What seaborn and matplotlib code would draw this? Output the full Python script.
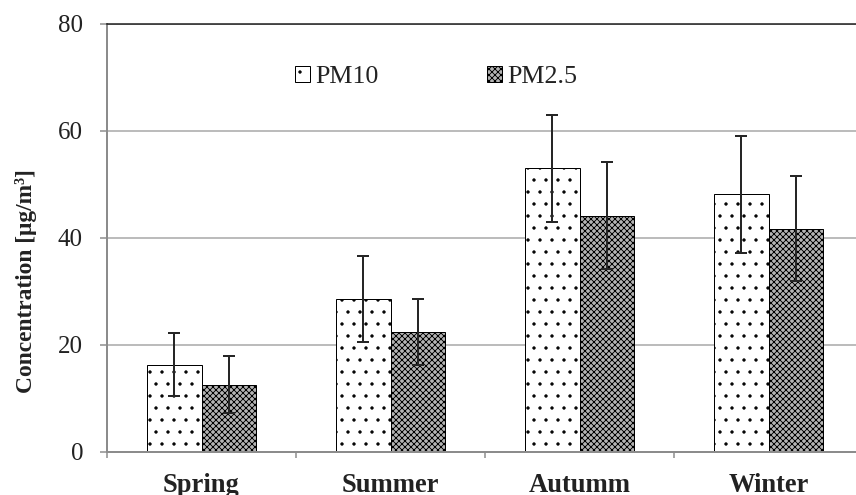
import matplotlib
matplotlib.use("Agg")
import matplotlib.pyplot as plt
import seaborn as sns
import pandas as pd
import numpy as np

# values
seasons = ["Spring", "Summer", "Autumm", "Winter"]
pollutants = ["PM10", "PM2.5"]
pm10_mean = [16.3, 28.6, 53.0, 48.1]
pm10_sd = [5.9, 8.0, 10.0, 11.0]
pm25_mean = [12.6, 22.4, 44.1, 41.7]
pm25_sd = [5.4, 6.1, 10.0, 9.8]

df = pd.DataFrame({
    "season": seasons * 2,
    "pollutant": [pollutants[0]] * 4 + [pollutants[1]] * 4,
    "conc": pm10_mean + pm25_mean,
})

sns.set_style("white")
plt.rcParams["font.family"] = ["Liberation Serif", "DejaVu Serif"]
plt.rcParams["hatch.linewidth"] = 0.9
text_col = "#222222"
grid_col = "#a6a6a6"

# dpi 72 -> 1 pt == 1 px
fig = plt.figure(figsize=(856 / 72, 495 / 72), dpi=72)
ax = fig.add_axes([107 / 856, 1 - 452 / 495, 756 / 856, 428.3 / 495])

# white dotted PM10, grey checker-like PM2.5
sns.barplot(data=df, x="season", y="conc", hue="pollutant", order=seasons,
            hue_order=pollutants, errorbar=None, width=0.572, gap=0,
            palette=["white", "#b4b4b4"], saturation=1, edgecolor="black",
            linewidth=1, legend=False, ax=ax)

bar_containers = list(ax.containers)
for cont, hatch in zip(bar_containers, [".", "xxxx"]):
    for bar in cont:
        bar.set_hatch(hatch)

# error bars on top of the seaborn bars
for cont, sds in zip(bar_containers, [pm10_sd, pm25_sd]):
    xs = [b.get_x() + b.get_width() / 2 for b in cont]
    ys = [b.get_height() for b in cont]
    ax.errorbar(xs, ys, yerr=sds, fmt="none", ecolor="#262626",
                elinewidth=2, capsize=6, capthick=2, zorder=5)

ax.set_xlim(-0.5, 3.5)
ax.set_ylim(0, 80)
ax.set_yticks(np.arange(0, 81, 20))
ax.set_xticks(range(len(seasons)))
ax.set_xticks(np.arange(-0.5, len(seasons), 1), minor=True)

ax.yaxis.grid(True, color=grid_col, lw=1.5)
ax.set_axisbelow(True)

ax.tick_params(axis="y", left=True, length=7, width=1.5, color="#8c8c8c",
               pad=17, labelsize=25, labelcolor=text_col)
ax.tick_params(axis="x", which="major", bottom=True, length=0, pad=21,
               labelsize=26.5, labelcolor=text_col)
ax.tick_params(axis="x", which="minor", bottom=True, length=6, width=1.5,
               color="#8c8c8c")
for lbl in ax.get_xticklabels():
    lbl.set_fontweight("bold")

for side in ["left", "bottom"]:
    ax.spines[side].set_color("#8c8c8c")
    ax.spines[side].set_linewidth(2)
ax.spines["top"].set_color("#1a1a1a")
ax.spines["top"].set_linewidth(1.5)
ax.spines["right"].set_visible(False)

ax.set_xlabel("")
ax.set_ylabel("Concentration [μg/m³]", fontsize=23.5, fontweight="bold",
              color=text_col)
ax.yaxis.set_label_coords(-0.092, 0.40)

ax.legend(bar_containers, pollutants, loc="center left",
          bbox_to_anchor=(295 / 856, 1 - 77 / 495),
          bbox_transform=fig.transFigure, ncol=2, frameon=False,
          fontsize=26, handlelength=0.58, handleheight=0.58,
          handletextpad=0.2, columnspacing=4.15, borderpad=0,
          borderaxespad=0, labelcolor=text_col)

fig.savefig("out.png", dpi=72)
